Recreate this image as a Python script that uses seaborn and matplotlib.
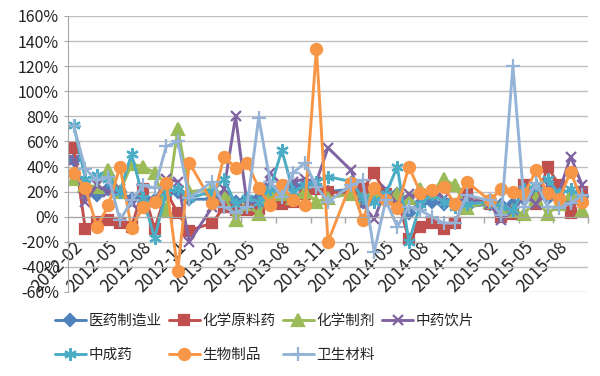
import matplotlib
matplotlib.use('Agg')
import matplotlib.pyplot as plt
import matplotlib.ticker as mtick
import matplotlib.transforms as mtrans
import numpy as np
import seaborn as sns

# monthly categories 2012-02 .. 2015-10, January values missing
months = []
for y in (2012, 2013, 2014, 2015):
    for m in range(1, 13):
        if (y == 2012 and m == 1) or (y == 2015 and m > 10):
            continue
        months.append('{}-{:02d}'.format(y, m))

N = None
yiyao = [45, 20, 17, 22, 20, 14, 16, 13, 18, 20, 14, N,
         14, 17, 12, 14, 15, 22, 24, 25, 24, 22, 20, N,
         22, 12, 14, 15, 18, 3, 10, 12, 10, 9, 8, N,
         10, 9, 10, 14, 20, 15, 14, 13, 16]
yuanliao = [55, -10, -4, -3, -5, -8, 22, -10, 20, 3, -11, N,
            -5, 8, 5, 5, 6, 12, 10, 12, 18, 22, 20, N,
            18, 22, 35, 18, 15, -18, -8, -5, -10, -5, 18, N,
            10, 0, 2, 25, 10, 40, 25, 3, 20]
zhiji = [30, 25, 24, 37, 20, 42, 40, 35, 5, 70, 20, N,
         22, 18, -3, 10, 2, 20, 18, 15, 20, 12, 15, N,
         18, 15, 20, 15, 18, 15, 22, 20, 30, 25, 7, N,
         12, 8, 5, 2, 15, 2, 10, 18, 5]
yinpian = [45, 12, 25, 20, 22, 10, 5, 12, 30, 28, -20, N,
           8, 22, 80, 10, 12, 35, 25, 28, 30, 28, 55, N,
           37, 10, -2, 22, 10, 18, 15, 20, 15, 12, 14, N,
           10, -3, 5, 18, 10, 25, 20, 48, 25]
chengyao = [73, 30, 33, 30, 20, 50, 15, -17, 20, 22, 15, N,
            20, 30, 10, 15, 12, 22, 53, 20, 25, 28, 32, N,
            28, 15, 12, 18, 40, -20, 10, 18, 12, 8, 10, N,
            12, 8, 5, 22, 25, 30, 18, 22, 15]
shengwu = [35, 23, -8, 9, 40, -9, 8, 12, 27, -43, 43, N,
           11, 48, 39, 43, 23, 9, 25, 13, 9, 134, -20, N,
           27, -3, 23, 13, 7, 40, 19, 21, 24, 10, 28, N,
           13, 22, 20, 18, 37, 19, 14, 36, 12]
weisheng = [72, 38, 29, 32, -3, 13, 25, 23, 56, 60, 15, N,
            28, 8, 3, 8, 79, 28, 16, 35, 43, 24, 12, N,
            25, 29, -28, 13, -8, 8, 5, 0, -5, -5, 17, N,
            13, 1, 120, 8, 27, 8, 7, 11, 17]

names = ['医药制造业', '化学原料药', '化学制剂', '中药饮片', '中成药', '生物制品', '卫生材料']
series = [yiyao, yuanliao, zhiji, yinpian, chengyao, shengwu, weisheng]
colors = ['#4F81BD', '#C0504D', '#9BBB59', '#8064A2', '#4BACC6', '#F79646', '#95B3D7']
markers = ['D', 's', '^', 'x', (6, 2, 0), 'o', '+']
msizes = [6, 7, 8, 7, 9, 8, 10]

sns.set_style('white')
plt.rcParams['font.family'] = ['Noto Sans CJK SC', 'DejaVu Sans']

fig = plt.figure(figsize=(6, 3.76), dpi=100)
ax = fig.add_axes([68 / 600, 1 - 292 / 376, 520 / 600, 276 / 376])

x = np.arange(len(months))
for name, vals, c, mk, ms in zip(names, series, colors, markers, msizes):
    v = np.array([np.nan if a is None else a for a in vals], dtype=float)
    ok = ~np.isnan(v)
    sns.lineplot(x=x[ok], y=v[ok], ax=ax, color=c, label=name, lw=2.1,
                 marker=mk, markersize=ms, markeredgecolor=c,
                 markerfacecolor=c, markeredgewidth=1.6, errorbar=None)

ax.set_ylim(-60, 160)
ax.set_yticks(np.arange(-60, 161, 20))
ax.yaxis.set_major_formatter(mtick.FuncFormatter(lambda v, _: '{:.0f}%'.format(v)))
ax.set_xlim(-0.5, len(months) - 0.5)
ax.grid(axis='y', color='#BFBFBF', lw=1.0)
ax.grid(axis='x', visible=False)
ax.set_axisbelow(True)

ax.spines['top'].set_visible(False)
ax.spines['right'].set_visible(False)
ax.spines['left'].set_color('#A6A6A6')
ax.spines['bottom'].set_position(('data', 0))
ax.spines['bottom'].set_color('#A6A6A6')

ticks = np.arange(0, len(months), 3)
ax.set_xticks(ticks)
ax.set_xticklabels([months[i] for i in ticks])
ax.set_xticks(np.arange(2.5, len(months), 3), minor=True)
ax.tick_params(axis='x', which='major', length=0, pad=20, labelsize=12.5,
               colors='#222222')
ax.tick_params(axis='x', which='minor', length=4, width=1, color='#A6A6A6',
               direction='out', bottom=True)
ax.tick_params(axis='y', length=3, color='#A6A6A6', labelsize=11.5,
               labelcolor='#222222', left=True)
shift = mtrans.ScaledTranslation(6 / 100, 0, fig.dpi_scale_trans)
for lbl in ax.get_xticklabels():
    lbl.set_rotation(45)
    lbl.set_ha('right')
    lbl.set_va('center')
    lbl.set_rotation_mode('anchor')
    lbl.set_transform(lbl.get_transform() + shift)
ax.set_xlabel('')
ax.set_ylabel('')

h, l = ax.get_legend_handles_labels()
ax.get_legend().remove()
order = [0, 4, 1, 5, 2, 6, 3]
fig.legend([h[i] for i in order], [l[i] for i in order], ncol=4,
           loc='upper left', bbox_to_anchor=(55 / 600, 1 - 314 / 376),
           frameon=False, fontsize=10.5, handlelength=2.1, handletextpad=0.2,
           columnspacing=0.5, labelspacing=1.35, borderpad=0,
           borderaxespad=0)

plt.savefig('out.png', dpi=100)
